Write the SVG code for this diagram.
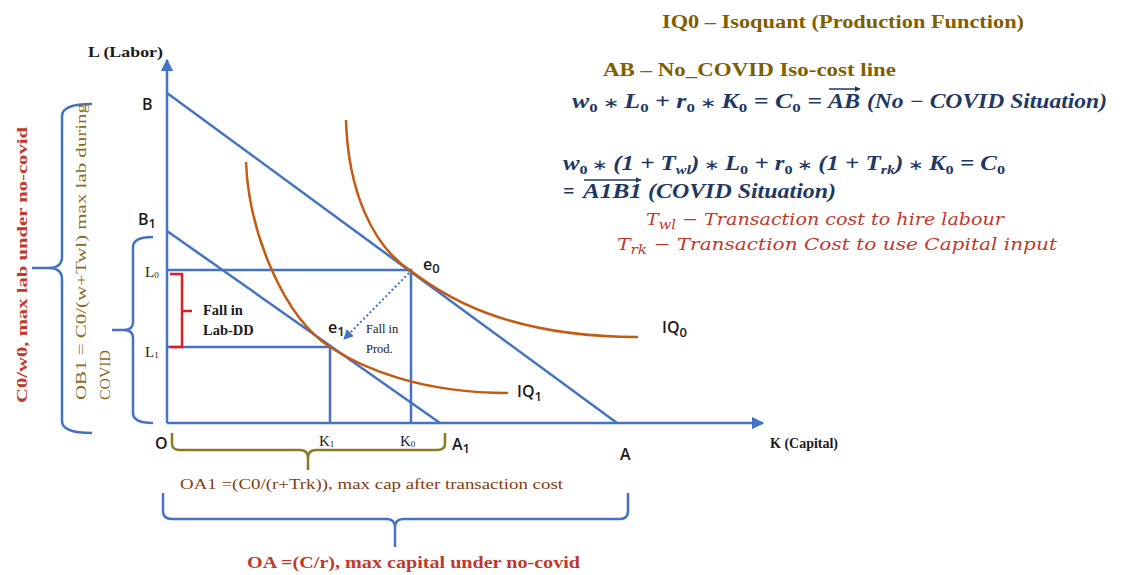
<svg xmlns="http://www.w3.org/2000/svg" width="1127" height="575" viewBox="0 0 1127 575">
<style>
.ax{stroke:#4472c4;stroke-width:2.5;fill:none}
.ln{stroke:#4472c4;stroke-width:2.5;fill:none}
.iq{stroke:#c55a11;stroke-width:2.5;fill:none}
.br{stroke:#4472c4;stroke-width:2.5;fill:none}
.sans{font-family:"Open Sans","Liberation Sans",sans-serif;font-weight:600;fill:#1a1a1a}
.ser{font-family:"Liberation Serif",serif;fill:#1a1a1a}
.eq{font-family:"Liberation Serif",serif;font-weight:bold;font-style:italic;fill:#1f3864;font-size:20px}
.red{font-family:"DejaVu Serif","Liberation Serif",serif;font-style:italic;fill:#c0392b;font-size:17px}
.gold{font-family:"Liberation Serif",serif;font-weight:bold;fill:#7f6000;font-size:18px}
.sub{font-size:13px}
.op{font-size:15px;font-style:normal;font-weight:normal}
</style>
<defs>
<marker id="ah" viewBox="0 0 10 10" refX="9" refY="5" markerWidth="5" markerHeight="5" orient="auto"><path d="M0,0 L10,5 L0,10 z" fill="#4472c4"/></marker>
<marker id="ah2" viewBox="0 0 10 10" refX="9" refY="5" markerWidth="4" markerHeight="4" orient="auto"><path d="M0,0 L10,5 L0,10 z" fill="#1f3864"/></marker>
</defs>

<g id="connectors">
<path class="ax" d="M167,423 V60" marker-end="url(#ah)"/>
<path class="ax" d="M167,423 H763" marker-end="url(#ah)"/>
<path class="ln" d="M167,93 L617,423"/>
<path class="ln" d="M167,231 L440,423"/>
<path class="ln" d="M167,270 H411 V423"/>
<path class="ln" d="M167,347 H330 V423"/>
<path d="M409,273 L344,339" stroke="#4472c4" stroke-width="2" stroke-dasharray="2,2.5" fill="none" marker-end="url(#ah)"/>
</g>

<g id="iq0"><path class="iq" d="M346,120 C348,190 372,246 411,271 C440,292 500,337 638,337"/>
<text class="sans" x="662" y="333" font-size="16">IQ<tspan class="sub" dy="4">0</tspan></text></g>
<g id="iq1"><path class="iq" d="M246,162 C249,235 285,318 330,347 C362,368 420,393 508,393"/>
<text class="sans" x="517" y="397" font-size="16">IQ<tspan class="sub" dy="4">1</tspan></text></g>

<g id="points">
<text class="sans" x="142" y="110" font-size="16">B</text>
<text class="sans" x="138" y="225" font-size="16">B<tspan class="sub" dy="3">1</tspan></text>
<text class="sans" x="155" y="449" font-size="16">O</text>
<text class="sans" x="452" y="450" font-size="16">A<tspan class="sub" dy="3">1</tspan></text>
<text class="sans" x="620" y="460" font-size="16">A</text>
<text class="sans" x="423" y="270" font-size="16">e<tspan class="sub" dy="3">0</tspan></text>
<text class="sans" x="328" y="333" font-size="16">e<tspan class="sub" dy="3">1</tspan></text>
<text class="ser" x="145" y="277" font-size="15">L<tspan font-size="9" dy="1">0</tspan></text>
<text class="ser" x="145" y="357" font-size="15">L<tspan font-size="9" dy="1">1</tspan></text>
<text class="ser" x="319" y="446" font-size="15">K<tspan font-size="9" dy="1">1</tspan></text>
<text class="ser" x="400" y="446" font-size="15">K<tspan font-size="9" dy="1">0</tspan></text>
<text class="ser" x="88" y="57" font-size="15" font-weight="bold" fill="#3a4660" textLength="75" lengthAdjust="spacingAndGlyphs">L (Labor)</text>
<text class="ser" x="770" y="448" font-size="15" font-weight="bold" fill="#3a4660" textLength="68" lengthAdjust="spacingAndGlyphs">K (Capital)</text>
</g>

<g id="fall-prod">
<text class="ser" x="366" y="333" font-size="12.5">Fall in</text>
<text class="ser" x="366" y="353" font-size="12.5">Prod.</text>
</g>

<g id="fall-lab">
<path d="M170,274 H182 V347 H170 M182,311 H192" stroke="#e02020" stroke-width="2.5" fill="none"/>
<text class="ser" x="203" y="315" font-size="14.5" font-weight="bold">Fall in</text>
<text class="ser" x="203" y="335" font-size="14.5" font-weight="bold">Lab-DD</text>
</g>

<g id="brace-c0w0">
<path class="br" d="M92,104 Q62,104 62,116 V257 Q62,268 48,268 H32 M48,268 Q62,268 62,279 V421 Q62,433 92,433"/>
<text transform="translate(27,403) rotate(-90)" font-family="Liberation Serif,serif" font-weight="bold" font-size="15" fill="#c0392b" textLength="276" lengthAdjust="spacingAndGlyphs">C0/w0, max lab under no-covid</text>
</g>

<g id="brace-ob1">
<path class="br" d="M153,237 Q133,237 133,247 V322 Q133,330 124,330 H112 M124,330 Q133,330 133,338 V413 Q133,423 153,423"/>
<text transform="translate(86,400) rotate(-90)" font-family="Liberation Serif,serif" font-size="15.5" fill="#8a6a1c" textLength="297" lengthAdjust="spacingAndGlyphs">OB1 = C0/(w+Twl) max lab  during</text>
<text transform="translate(110,400) rotate(-90)" font-family="Liberation Serif,serif" font-size="15.5" fill="#8a6a1c" textLength="50" lengthAdjust="spacingAndGlyphs">COVID</text>
</g>

<g id="brace-oa1">
<path d="M172,433 V444 Q172,450 180,450 H300 Q308,450 308,458 V470 M308,458 Q308,450 316,450 H437 Q445,450 445,444 V433" stroke="#8a7a24" stroke-width="2.5" fill="none"/>
<text x="180" y="489" font-family="Liberation Serif,serif" font-size="15" fill="#843c0c" textLength="383" lengthAdjust="spacingAndGlyphs">OA1 =(C0/(r+Trk)), max cap after transaction cost</text>
</g>

<g id="brace-oa">
<path class="br" d="M163,493 V511 Q163,519 172,519 H387 Q395,519 395,528 V547 M395,528 Q395,519 403,519 H620 Q628,519 628,511 V493"/>
<text x="247" y="568" font-family="Liberation Serif,serif" font-size="17" font-weight="bold" fill="#c0392b" textLength="333" lengthAdjust="spacingAndGlyphs">OA =(C/r), max capital under no-covid</text>
</g>

<g id="legend">
<text class="gold" x="662" y="28" textLength="362" lengthAdjust="spacingAndGlyphs">IQ0 – Isoquant (Production Function)</text>
<text class="gold" x="603" y="76" textLength="293" lengthAdjust="spacingAndGlyphs">AB – No_COVID Iso-cost line</text>

<text class="eq" x="572" y="108" textLength="250" lengthAdjust="spacingAndGlyphs">w<tspan class="sub" dy="4" font-style="normal">0</tspan><tspan class="op" dy="-4"> ∗ </tspan><tspan>L</tspan><tspan class="sub" dy="4" font-style="normal">0</tspan><tspan dy="-4"> + r</tspan><tspan class="sub" dy="4" font-style="normal">0</tspan><tspan class="op" dy="-4"> ∗ </tspan><tspan>K</tspan><tspan class="sub" dy="4" font-style="normal">0</tspan><tspan dy="-4"> = C</tspan><tspan class="sub" dy="4" font-style="normal">0</tspan><tspan dy="-4"> =</tspan></text>
<text class="eq" x="828" y="108" textLength="32" lengthAdjust="spacingAndGlyphs">AB</text>
<path d="M829,89 H860" stroke="#1f3864" stroke-width="1.5" marker-end="url(#ah2)"/>
<text class="eq" x="867" y="108" textLength="240" lengthAdjust="spacingAndGlyphs">(No − COVID Situation)</text>

<text class="eq" x="563" y="170" textLength="442" lengthAdjust="spacingAndGlyphs">w<tspan class="sub" dy="4" font-style="normal">0</tspan><tspan class="op" dy="-4"> ∗ </tspan><tspan>(1 + T</tspan><tspan class="sub" dy="4">wl</tspan><tspan dy="-4">)</tspan><tspan class="op"> ∗ </tspan><tspan>L</tspan><tspan class="sub" dy="4" font-style="normal">0</tspan><tspan dy="-4"> + r</tspan><tspan class="sub" dy="4" font-style="normal">0</tspan><tspan class="op" dy="-4"> ∗ </tspan><tspan>(1 + T</tspan><tspan class="sub" dy="4">rk</tspan><tspan dy="-4">)</tspan><tspan class="op"> ∗ </tspan><tspan>K</tspan><tspan class="sub" dy="4" font-style="normal">0</tspan><tspan dy="-4"> = C</tspan><tspan class="sub" dy="4" font-style="normal">0</tspan></text>
<text class="eq" x="563" y="198">=</text>
<text class="eq" x="583" y="198" textLength="59" lengthAdjust="spacingAndGlyphs">A1B1</text>
<path d="M584,180 H641" stroke="#1f3864" stroke-width="1.5" marker-end="url(#ah2)"/>
<text class="eq" x="648" y="198" textLength="188" lengthAdjust="spacingAndGlyphs">(COVID Situation)</text>

<text class="red" x="646" y="225" textLength="358" lengthAdjust="spacingAndGlyphs">T<tspan class="sub" dy="4">wl</tspan><tspan dy="-4"> − Transaction cost to hire labour</tspan></text>
<text class="red" x="617" y="250" textLength="440" lengthAdjust="spacingAndGlyphs">T<tspan class="sub" dy="4">rk</tspan><tspan dy="-4"> − Transaction Cost to use Capital input</tspan></text>
</g>
</svg>
